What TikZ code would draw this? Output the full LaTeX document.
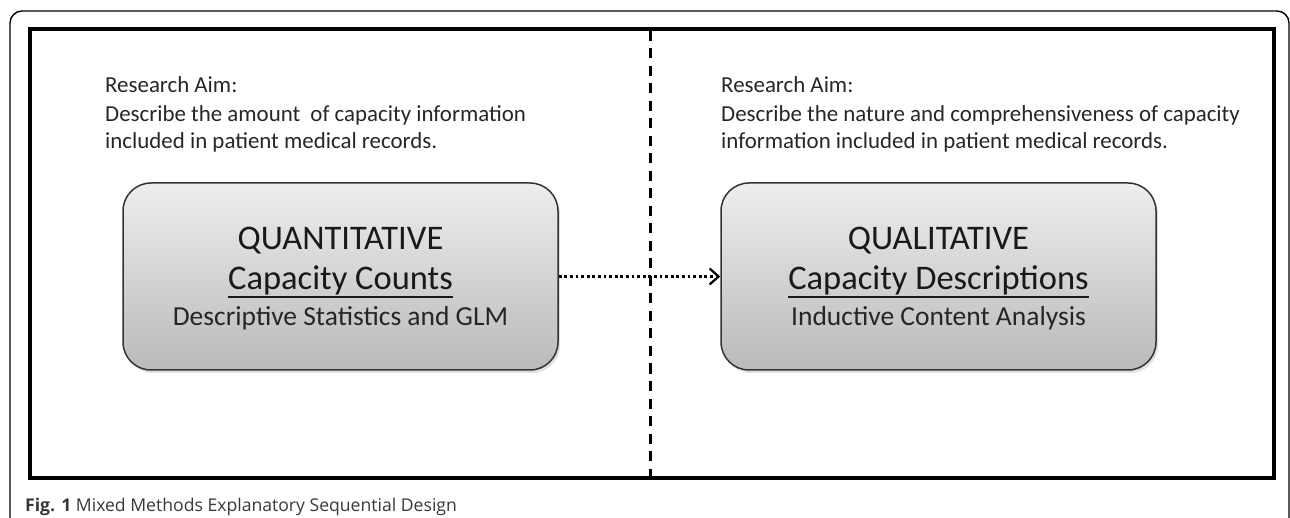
\documentclass[tikz,border=0pt]{standalone}
\usepackage{fontspec}
\setmainfont{Carlito}
\newfontfamily\capfont{Open Sans}
\usetikzlibrary{arrows.meta,shadows}
\begin{document}
\begin{tikzpicture}[x=1pt,y=-1pt,
  aimtext/.style={anchor=base west,inner sep=0pt,font=\fontsize{22.9}{27}\selectfont,text=black!85},
  methodbox/.style={draw=black!80,line width=1.5pt,rounded corners=28pt,
    minimum width=435pt,minimum height=187pt,inner sep=0pt,
    top color=black!7,bottom color=black!27,
    drop shadow={opacity=0.25,shadow xshift=2pt,shadow yshift=-3pt}},
  bigtext/.style={anchor=base,inner sep=0pt,font=\fontsize{34.5}{38}\selectfont,text=black!90},
  smalltext/.style={anchor=base,inner sep=0pt,font=\fontsize{27.5}{32}\selectfont,text=black!85},
  uline/.style={line width=2pt,black!90}]
\useasboundingbox (0,0) rectangle (1290,518);
% outer frame
\draw[line width=1.4pt,rounded corners=12pt] (10,530) -- (10,11) -- (1289,11) -- (1289,530);
% inner frame
\node[draw,line width=4pt,minimum width=1244pt,minimum height=448pt,inner sep=0pt] (frame) at (652,253.5) {};
% divider
\coordinate (dtop) at (650,31);
\coordinate (dbot) at (650,476);
\draw[line width=3pt,dash pattern=on 10pt off 7.5pt] (dtop) -- (dbot);
% left texts
\node[aimtext] (la1) at (105,93) {Research Aim:};
\node[aimtext] (la2) at (105,122) {Describe the amount\hspace{5pt} of capacity information};
\node[aimtext] (la3) at (105,149) {included in patient medical records.};
% right texts
\node[aimtext] (ra1) at (721,93) {Research Aim:};
\node[aimtext] (ra2) at (721,122) {Describe the nature and comprehensiveness of capacity};
\node[aimtext] (ra3) at (721,149) {information included in patient medical records.};
% boxes
\node[methodbox] (qn) at (340.5,276.5) {};
\node[methodbox] (ql) at (938.5,276.5) {};
\node[bigtext] (qn1) at (340.5,250) {QUANTITATIVE};
\node[bigtext] (qn2) at (340.5,290) {Capacity Counts};
\node[smalltext] (qn3) at (340.5,326) {Descriptive Statistics and GLM};
\node[bigtext] (ql1) at (938.5,250) {QUALITATIVE};
\node[bigtext] (ql2) at (938.5,290) {Capacity Descriptions};
\node[smalltext] (ql3) at (938.5,326) {Inductive Content Analysis};
\draw[uline] ([yshift=-7.5pt]qn2.base west) -- ([yshift=-7.5pt]qn2.base east);
\draw[uline] ([yshift=-7.5pt]ql2.base west) -- ([yshift=-7.5pt]ql2.base east);
% arrow
\draw[line width=2.8pt,dash pattern=on 2.8pt off 2.8pt,-{Straight Barb[length=9pt,width=16pt,line width=2.2pt]}] (qn.east) -- (ql.west);
% caption
\node[anchor=base west,inner sep=0pt,font=\capfont\fontsize{17.6}{22}\selectfont,text=black!78] (cap) at (25,511)
  {\textbf{Fig. 1} Mixed Methods Explanatory Sequential Design};
\end{tikzpicture}
\end{document}
